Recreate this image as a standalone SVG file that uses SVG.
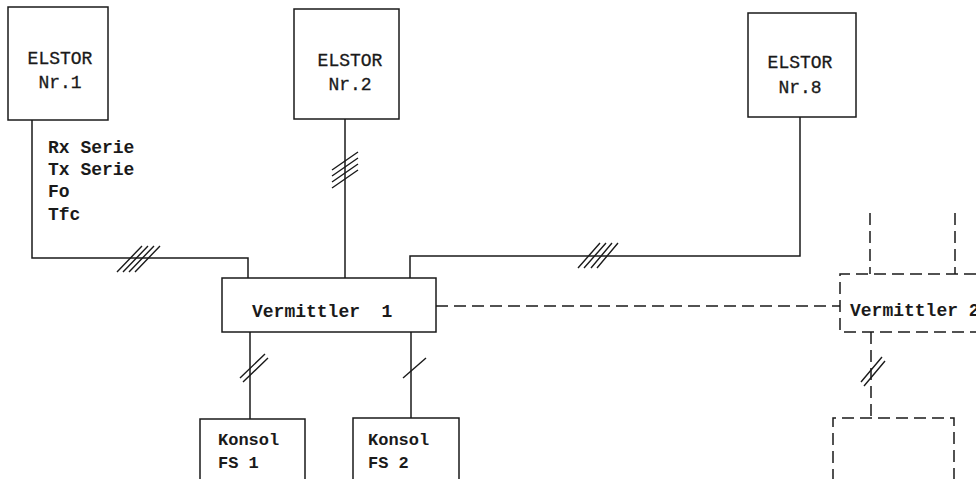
<svg xmlns="http://www.w3.org/2000/svg" width="976" height="479" viewBox="0 0 976 479">
<style>
.box{fill:none;stroke:#1a1a1a;stroke-width:1.5}
.dbox{fill:none;stroke:#1a1a1a;stroke-width:1.5;stroke-dasharray:12 6}
.ln{fill:none;stroke:#1a1a1a;stroke-width:1.5}
.dl{fill:none;stroke:#1a1a1a;stroke-width:1.5;stroke-dasharray:12 6}
.tk{fill:none;stroke:#1a1a1a;stroke-width:1.4}
text{font-family:"Liberation Mono","DejaVu Sans Mono",monospace;fill:#1a1a1a}
.t{font-size:18px;stroke:#1a1a1a;stroke-width:0.3}
.b{font-size:18px;font-weight:bold}
.k{font-size:17px;font-weight:bold}
</style>
<rect width="976" height="479" fill="#fff"/>
<g id="connectors">
  <path class="ln" d="M32 120 V258 H248 V278"/>
  <path class="ln" d="M345 119 V278"/>
  <path class="ln" d="M800 117 V256 H410 V278"/>
  <path class="ln" d="M250 332 V419"/>
  <path class="ln" d="M411 332 V418"/>
  <path class="dl" d="M436 306 H840"/>
  <path class="dl" d="M871 332 V418"/>
  <path class="dl" d="M870 213 V274"/>
  <path class="dl" d="M955 213 V274"/>
  <g id="ticks">
    <path class="tk" d="M117 272 L142 246 M123 272 L148 246 M129 272 L154 246 M135 272 L160 246"/>
    <path class="tk" d="M578 268 L600 243 M584 268 L606 243 M591 268 L612 243 M597 268 L618 243"/>
    <path class="tk" d="M332 170 L358 152 M332 176 L358 158 M332 182 L358 164 M332 188 L358 170"/>
    <path class="tk" d="M240 378 L265 354 M243 382 L268 358"/>
    <path class="tk" d="M403 378 L426 358"/>
    <path class="tk" d="M861 382 L882 357 M864 386 L885 361"/>
  </g>
</g>
<g id="elstor1">
  <rect class="box" x="8" y="7" width="100" height="113"/>
  <text class="t" x="60" y="64" text-anchor="middle">ELSTOR</text>
  <text class="t" x="60" y="88" text-anchor="middle">Nr.1</text>
</g>
<g id="signals">
  <text class="b" x="48" y="153">Rx Serie</text>
  <text class="b" x="48" y="175">Tx Serie</text>
  <text class="b" x="48" y="197">Fo</text>
  <text class="b" x="48" y="220">Tfc</text>
</g>
<g id="elstor2">
  <rect class="box" x="294" y="9" width="105" height="110"/>
  <text class="t" x="350" y="66" text-anchor="middle">ELSTOR</text>
  <text class="t" x="350" y="90" text-anchor="middle">Nr.2</text>
</g>
<g id="elstor8">
  <rect class="box" x="748" y="13" width="108" height="104"/>
  <text class="t" x="800" y="68" text-anchor="middle">ELSTOR</text>
  <text class="t" x="800" y="93" text-anchor="middle">Nr.8</text>
</g>
<g id="vermittler1">
  <rect class="box" x="222" y="278" width="214" height="54"/>
  <text class="b" x="252" y="317" xml:space="preserve">Vermittler  1</text>
</g>
<g id="vermittler2">
  <path class="dbox" d="M976 274 H840 V332 H976"/>
  <text class="b" x="850" y="316">Vermittler 2</text>
</g>
<g id="konsol1">
  <path class="box" d="M200 481 V419 H305 V481"/>
  <text class="k" x="218" y="445">Konsol</text>
  <text class="k" x="218" y="468">FS 1</text>
</g>
<g id="konsol2">
  <path class="box" d="M353 481 V418 H459 V481"/>
  <text class="k" x="368" y="445">Konsol</text>
  <text class="k" x="368" y="468">FS 2</text>
</g>
<g id="konsol3">
  <path class="dbox" d="M833 481 V418 H954 V481"/>
</g>
</svg>
